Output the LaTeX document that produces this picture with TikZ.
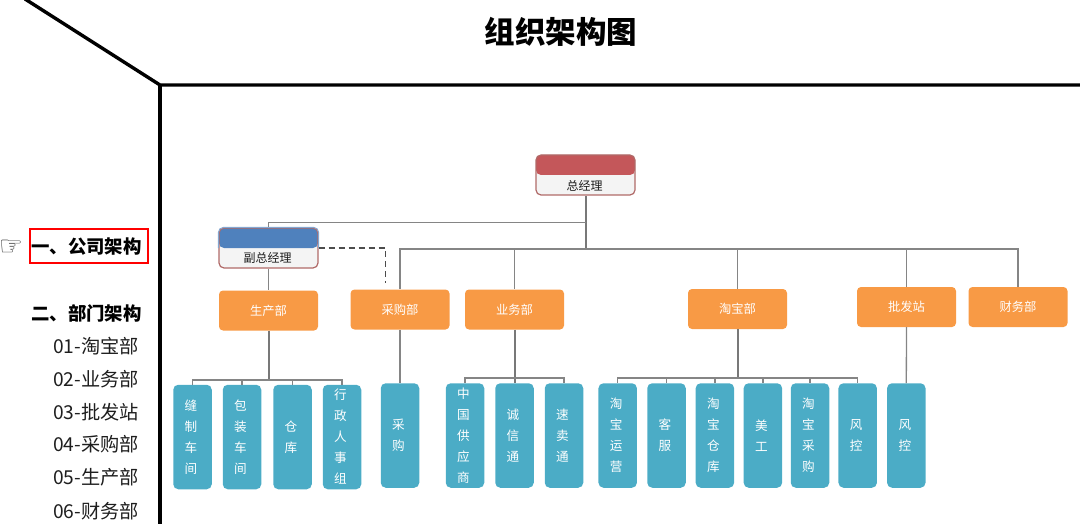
\documentclass[tikz,border=0pt]{standalone}
\usepackage{fontspec}
\setmainfont{Noto Sans CJK SC}
\newfontfamily\symbolfont{DejaVu Sans}
\definecolor{deptorange}{HTML}{F89A45}
\definecolor{leafteal}{HTML}{4BACC6}
\definecolor{headred}{HTML}{C4575A}
\definecolor{headblue}{HTML}{4F81BD}
\definecolor{cardedge}{HTML}{B06A68}
\definecolor{cardface}{HTML}{F4F4F4}
\definecolor{linkgray}{HTML}{858585}
\definecolor{inkdark}{HTML}{1E1E1E}
\tikzset{
  dept/.style={rectangle, rounded corners=4pt, fill=deptorange, inner sep=0pt,
    minimum width=99pt, minimum height=40pt, text=white,
    font=\fontsize{12.3}{14}\selectfont},
  leaf/.style={rectangle, rounded corners=5pt, fill=leafteal, inner sep=0pt,
    minimum width=38.5pt, minimum height=104.5pt, text=white, align=center,
    font=\fontsize{12.6}{21}\selectfont},
  card/.style={rectangle, rounded corners=5pt, draw=cardedge, line width=1.2pt,
    fill=cardface, inner sep=0pt, minimum width=99pt, minimum height=40pt,
    path picture={\fill[#1] (path picture bounding box.north west)
      rectangle (path picture bounding box.east);}},
  cardtext/.style={inner sep=0pt, text=inkdark, font=\fontsize{12}{14}\selectfont},
  link/.style={draw=linkgray, line width=1.3pt},
  trunk/.style={draw=linkgray!90!black, line width=2pt},
  frameline/.style={draw=black, line width=3.4pt},
  menu/.style={inner sep=0pt, anchor=west, text=inkdark, font=\fontsize{19.2}{21}\selectfont},
  menuhead/.style={inner sep=0pt, anchor=west, text=black, font=\fontsize{18.4}{20}\selectfont\bfseries},
}
\begin{document}
\begin{tikzpicture}[x=1pt,y=-1pt]
\useasboundingbox (0,0) rectangle (1080,524);
\clip (0,0) rectangle (1080,524);

% Outer frame and page title
\coordinate (fa) at (25,-1);
\coordinate (fb) at (160,85);
\coordinate (fc) at (1081,85);
\coordinate (fd) at (160,525);
\draw[frameline] (fa) -- (fb) -- (fc);
\draw[frameline] (fb) -- (fd);
\node[inner sep=0pt, font=\fontsize{30.5}{32}\selectfont\bfseries] (title) at (561,32) {组织架构图};

% Side menu
\node[draw=red, line width=2pt, minimum width=118pt, minimum height=33pt, inner sep=0pt] (current) at (88.5,246) {};
\node[menuhead] (m1) at (31,247) {一、公司架构};
\node[inner sep=0pt, text=black!75, font=\symbolfont\fontsize{27}{30}\selectfont\bfseries] (hand) at (11,248) {☞};
\node[menuhead] (m2) at (31,313) {二、部门架构};
\node[menu] (m3) at (53,346) {01-淘宝部};
\node[menu] (m4) at (53,379) {02-业务部};
\node[menu] (m5) at (53,412) {03-批发站};
\node[menu] (m6) at (53,444) {04-采购部};
\node[menu] (m7) at (53,477) {05-生产部};
\node[menu] (m8) at (53,511) {06-财务部};

% Management cards
\node[card=headred] (gm) at (585.5,175) {};
\node[cardtext] (gmt) at (584.5,185.5) {总经理};
\node[card=headblue] (vice) at (268.5,248) {};
\draw[headblue!70!white, line width=1pt, rounded corners=5pt]
  (vice.west) -- (vice.north west) -- (vice.north east) -- (vice.east);
\node[cardtext] (vicet) at (267.5,258) {副总经理};

% Departments
\node[dept] (prod) at (268.5,310.5) {生产部};
\node[dept] (buy) at (400,309.5) {采购部};
\node[dept] (biz) at (514.5,309.5) {业务部};
\node[dept] (taobao) at (737.5,309) {淘宝部};
\node[dept] (whole) at (906.5,307) {批发站};
\node[dept] (fin) at (1018,307) {财务部};

% Teams
\node[leaf] (t1) at (192.5,437) {\hspace{-3pt}缝\\\hspace{-3pt}制\\\hspace{-3pt}车\\\hspace{-3pt}间};
\node[leaf] (t2) at (242,437) {\hspace{-3pt}包\\\hspace{-3pt}装\\\hspace{-3pt}车\\\hspace{-3pt}间};
\node[leaf] (t3) at (292.5,437) {\hspace{-3pt}仓\\\hspace{-3pt}库};
\node[leaf] (t4) at (342,437) {\hspace{-3pt}行\\\hspace{-3pt}政\\\hspace{-3pt}人\\\hspace{-3pt}事\\\hspace{-3pt}组};
\node[leaf] (t5) at (400,435.5) {\hspace{-3pt}采\\\hspace{-3pt}购};
\node[leaf] (t6) at (465,435.5) {\hspace{-3pt}中\\\hspace{-3pt}国\\\hspace{-3pt}供\\\hspace{-3pt}应\\\hspace{-3pt}商};
\node[leaf] (t7) at (514.5,435.5) {\hspace{-3pt}诚\\\hspace{-3pt}信\\\hspace{-3pt}通};
\node[leaf] (t8) at (564,435.5) {\hspace{-3pt}速\\\hspace{-3pt}卖\\\hspace{-3pt}通};
\node[leaf] (t9) at (617.7,435.5) {\hspace{-3pt}淘\\\hspace{-3pt}宝\\\hspace{-3pt}运\\\hspace{-3pt}营};
\node[leaf] (t10) at (666.5,435.5) {\hspace{-3pt}客\\\hspace{-3pt}服};
\node[leaf] (t11) at (714.9,435.5) {\hspace{-3pt}淘\\\hspace{-3pt}宝\\\hspace{-3pt}仓\\\hspace{-3pt}库};
\node[leaf] (t12) at (762.9,435.5) {\hspace{-3pt}美\\\hspace{-3pt}工};
\node[leaf] (t13) at (810,435.5) {\hspace{-3pt}淘\\\hspace{-3pt}宝\\\hspace{-3pt}采\\\hspace{-3pt}购};
\node[leaf] (t14) at (857.7,435.5) {\hspace{-3pt}风\\\hspace{-3pt}控};
\node[leaf] (t15) at (906.3,435.5) {\hspace{-3pt}风\\\hspace{-3pt}控};

% Bus lines
\coordinate (vicebus) at (585.5,222.7);
\coordinate (deptbus) at (585.5,249);
\coordinate (prodbus) at (268.5,380);
\coordinate (bizbus) at (514.5,378);
\coordinate (taobus) at (737.5,378);
\coordinate (dashturn) at (385.5,248);
\coordinate (dashend) at (385.5,283);

% Connectors
\draw[trunk] (gm.south) -- (deptbus);
\draw[link] (vicebus) -| (vice.north);
\foreach \d in {buy,biz,taobao,whole,fin} \draw[link] (deptbus) -| (\d.north);
\draw[link] (vice.south) -- (prod.north);
\draw[link, dash pattern=on 6pt off 4pt, line width=1.4pt, draw=black!70] (vice.east) -- (dashturn) -- (dashend);

\draw[trunk] (prod.south) -- (prodbus);
\foreach \c in {t1,t2,t3,t4} \draw[link] (prodbus) -| (\c.north);
\draw[link] (buy.south) -- (t5.north);
\draw[trunk] (biz.south) -- (t7.north);
\foreach \c in {t6,t8} \draw[link] (bizbus) -| (\c.north);
\draw[trunk] (taobao.south) -- (taobus);
\foreach \c in {t9,t10,t11,t12,t13,t14} \draw[link] (taobus) -| (\c.north);
\draw[link] (whole.south) -- (t15.north);
\end{tikzpicture}
\end{document}
